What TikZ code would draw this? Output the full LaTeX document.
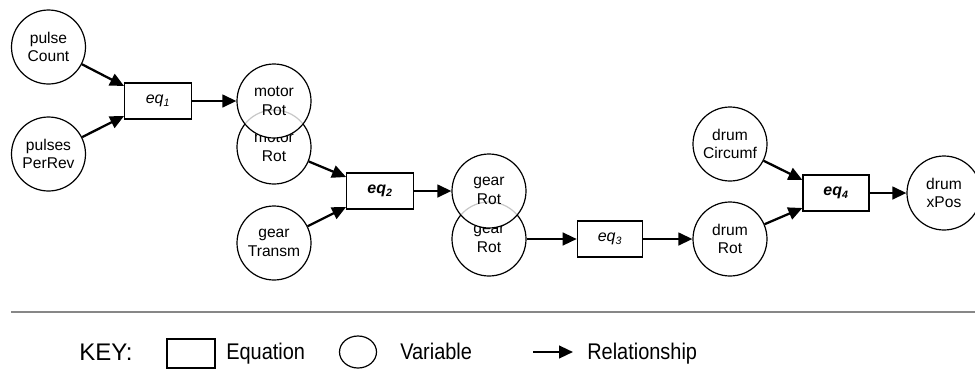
\documentclass[tikz,border=0pt]{standalone}
\usepackage{fontspec}
\setmainfont{Liberation Sans}
\newfontfamily\keyfont[FakeStretch=0.88]{Liberation Sans}
\usetikzlibrary{arrows.meta,calc,shapes.geometric}
\begin{document}
\begin{tikzpicture}[x=0.75pt,y=-0.75pt,
  var/.style={circle,draw=black,line width=0.9pt,minimum size=55.5pt,inner sep=0pt,
    align=center,font=\fontsize{11.7}{13.8}\selectfont},
  eqbox/.style={rectangle,draw=black,line width=0.9pt,minimum width=50pt,minimum height=27pt,
    inner sep=0pt,fill=white,font=\fontsize{12}{13}\selectfont\itshape},
  rel/.style={line width=1.7pt,-{Triangle[length=10.5pt,width=9.5pt]}},
  ghost/.style={draw=black!22,line width=0.9pt},
  keytext/.style={anchor=base west,inner sep=0pt,font=\keyfont\fontsize{17}{20}\selectfont},
]
\useasboundingbox (0,0) rectangle (975,369);

% left inputs
\node[var] (pulseCount) at (48.5,47) {pulse\\Count};
\node[var] (pulsesPerRev) at (48.5,154) {pulses\\PerRev};
\node[eqbox] (eq1) at (158,101) {eq\textsubscript{1}};

% motor Rot (two overlapping copies)
\node[var] (motorRotB) at (274,147) {motor\\Rot};
\coordinate (mA) at (274,101);
\fill[white] (mA) circle[radius=27.75pt];
\begin{scope}
  \clip (mA) circle[radius=27.75pt];
  \draw[ghost] (motorRotB.center) circle[radius=27.75pt];
\end{scope}
\node[var] (motorRotA) at (mA) {motor\\Rot};

\node[var] (gearTransm) at (274,243) {gear\\Transm};
\node[eqbox] (eq2) at (380,191) {\bfseries eq\textsubscript{2}};

% gear Rot (two overlapping copies)
\node[var] (gearRotB) at (489,239) {gear\\Rot};
\coordinate (gA) at (489,191);
\fill[white] (gA) circle[radius=27.75pt];
\begin{scope}
  \clip (gA) circle[radius=27.75pt];
  \draw[ghost] (gearRotB.center) circle[radius=27.75pt];
\end{scope}
\node[var] (gearRotA) at (gA) {gear\\Rot};

\node[eqbox,minimum width=49pt] (eq3) at (610,239) {eq\textsubscript{3}};
\node[var] (drumRot) at (730,239) {drum\\Rot};
\node[var] (drumCircumf) at (730,144) {drum\\Circumf};
\node[eqbox,minimum width=49.5pt] (eq4) at (836,193) {\bfseries eq\textsubscript{4}};
\node[var] (drumXPos) at (944,193) {drum\\xPos};

% relationships
\draw[rel] (pulseCount) -- ($(eq1.west)+(0,-15)$);
\draw[rel] (pulsesPerRev) -- ($(eq1.west)+(0,15)$);
\draw[rel] (eq1.east) -- (motorRotA);
\draw[rel] (motorRotB) -- ($(eq2.west)+(0,-14)$);
\draw[rel] (gearTransm) -- ($(eq2.west)+(0,16)$);
\draw[rel] (eq2.east) -- (gearRotA);
\draw[rel] (gearRotB.east) -- (eq3.west);
\draw[rel] (eq3.east) -- (drumRot);
\draw[rel] (drumCircumf) -- ($(eq4.west)+(0,-13)$);
\draw[rel] (drumRot) -- ($(eq4.west)+(0,15)$);
\draw[rel] (eq4.east) -- (drumXPos);

% separator
\coordinate (sepL) at (11,312);
\coordinate (sepR) at (975,312);
\draw[black!47,line width=1.6pt] (sepL) -- (sepR);

% key
\node[anchor=base west,inner sep=0pt,font=\fontsize{18}{21}\selectfont] (keyLabel) at (79,360) {KEY:};
\node[rectangle,draw=black,line width=0.9pt,minimum width=36pt,minimum height=21.75pt,inner sep=0pt]
  (keyEq) at (191,353.5) {};
\node[keytext] (keyEqText) at (226,359) {Equation};
\node[ellipse,draw=black,line width=0.9pt,minimum width=27.75pt,minimum height=24pt,inner sep=0pt]
  (keyVar) at (358,352) {};
\node[keytext] (keyVarText) at (400,359) {Variable};
\coordinate (keyArrA) at (533,352);
\coordinate (keyArrB) at (573,352);
\draw[rel] (keyArrA) -- (keyArrB);
\node[keytext] (keyRelText) at (587,359) {Relationship};
\end{tikzpicture}
\end{document}
